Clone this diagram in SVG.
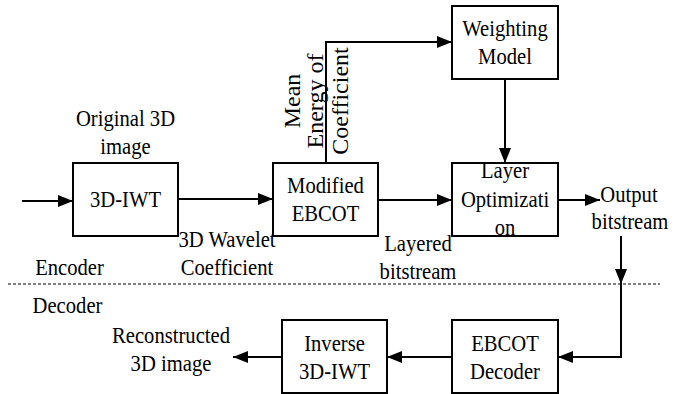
<svg xmlns="http://www.w3.org/2000/svg" width="684" height="394" viewBox="0 0 684 394">
<style>
.box{fill:#fff;stroke:#000;stroke-width:2}
.ln{fill:none;stroke:#000;stroke-width:2}
text{font-family:'Liberation Serif','Times New Roman',Times,'DejaVu Serif',serif;font-size:24px;text-anchor:middle;fill:#000}
.dash{stroke:#000;stroke-width:1;stroke-dasharray:3 2;fill:none}
</style>
<defs>
<marker id="ah" markerUnits="userSpaceOnUse" markerWidth="15" markerHeight="12" refX="15" refY="6" orient="auto">
<path d="M0,0 L15,6 L0,12 z" fill="#000"/>
</marker>
</defs>
<rect width="684" height="394" fill="#fff"/>
<g id="connectors">
<path class="ln" d="M22,201 H73" marker-end="url(#ah)"/>
<path class="ln" d="M178,199 H273" marker-end="url(#ah)"/>
<path class="ln" d="M378,200 H452" marker-end="url(#ah)"/>
<path class="ln" d="M326,163 V42 H452" marker-end="url(#ah)"/>
<path class="ln" d="M505,79 V163" marker-end="url(#ah)"/>
<path class="ln" d="M558,200 H600" marker-end="url(#ah)"/>
<path class="ln" d="M621,236 V284" marker-end="url(#ah)"/>
<path class="ln" d="M621,284 V357 H558" marker-end="url(#ah)"/>
<path class="ln" d="M452,357 H387" marker-end="url(#ah)"/>
<path class="ln" d="M282,357 H233" marker-end="url(#ah)"/>
</g>
<line class="dash" x1="8" y1="284" x2="660" y2="284"/>
<g id="labels">
<text transform="translate(125.5,126) scale(0.86,1)">Original 3D</text>
<text transform="translate(125.5,154) scale(0.86,1)">image</text>
<text transform="translate(227,247) scale(0.86,1)">3D Wavelet</text>
<text transform="translate(227,275) scale(0.86,1)">Coefficient</text>
<text transform="translate(69.5,275) scale(0.86,1)">Encoder</text>
<text transform="translate(67.5,313) scale(0.86,1)">Decoder</text>
<text transform="translate(300,101) rotate(-90)">Mean</text>
<text transform="translate(323,101) rotate(-90)">Energy of</text>
<text transform="translate(348,101) rotate(-90)">Coefficient</text>
<text transform="translate(418,251) scale(0.86,1)">Layered</text>
<text transform="translate(418,279) scale(0.86,1)">bitstream</text>
<text transform="translate(629,202) scale(0.86,1)">Output</text>
<text transform="translate(630,229) scale(0.86,1)">bitstream</text>
<text transform="translate(171,343) scale(0.86,1)">Reconstructed</text>
<text transform="translate(171,371) scale(0.86,1)">3D image</text>
</g>
<g id="n-iwt">
<rect class="box" x="73" y="163" width="105" height="73"/>
<text transform="translate(125.5,207) scale(0.86,1)">3D-IWT</text>
</g>
<g id="n-mebcot">
<rect class="box" x="273" y="163" width="105" height="73"/>
<text transform="translate(325.5,193) scale(0.86,1)">Modified</text>
<text transform="translate(325.5,221) scale(0.86,1)">EBCOT</text>
</g>
<g id="n-weight">
<rect class="box" x="452" y="6" width="106" height="73"/>
<text transform="translate(505,36) scale(0.86,1)">Weighting</text>
<text transform="translate(505,64) scale(0.86,1)">Model</text>
</g>
<g id="n-layer">
<rect class="box" x="452" y="163" width="106" height="73"/>
<text transform="translate(505,178) scale(0.86,1)">Layer</text>
<text transform="translate(505,207) scale(0.86,1)">Optimizati</text>
<text transform="translate(505,235) scale(0.86,1)">on</text>
</g>
<g id="n-decoder">
<rect class="box" x="452" y="320" width="106" height="73"/>
<text transform="translate(505,350.5) scale(0.86,1)">EBCOT</text>
<text transform="translate(505,378.5) scale(0.86,1)">Decoder</text>
</g>
<g id="n-inverse">
<rect class="box" x="282" y="320" width="105" height="73"/>
<text transform="translate(334.5,350.5) scale(0.86,1)">Inverse</text>
<text transform="translate(334.5,378.5) scale(0.86,1)">3D-IWT</text>
</g>
</svg>
